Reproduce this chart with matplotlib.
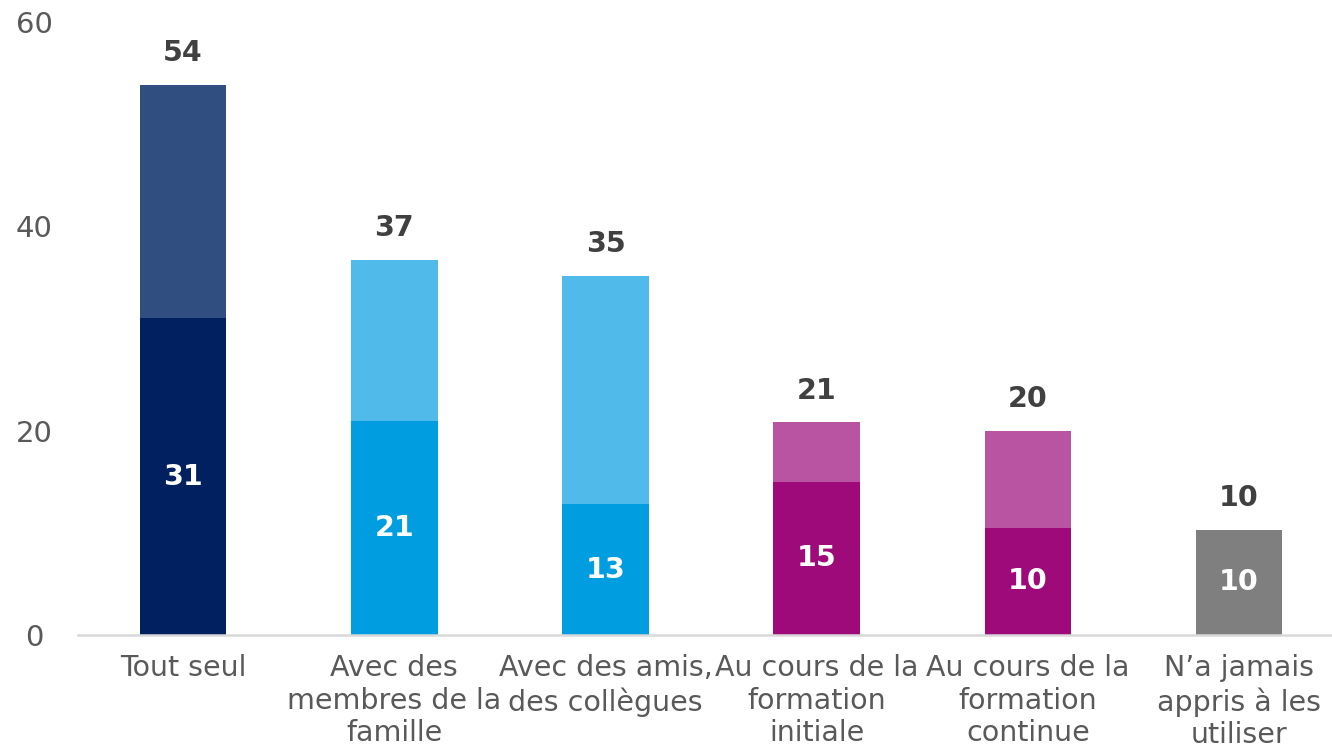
import matplotlib
matplotlib.use("Agg")
import matplotlib.pyplot as plt
import numpy as np

# how people learned to use the tools: total share and "main" share (%)
categories = ["Tout seul", "Avec des\nmembres de la\nfamille", "Avec des amis,\ndes collègues",
              "Au cours de la\nformation\ninitiale", "Au cours de la\nformation\ncontinue",
              "N’a jamais\nappris à les\nutiliser"]
totals = [53.8, 36.7, 35.1, 20.8, 20.0, 10.3]
bottoms = [31.0, 20.9, 12.8, 15.0, 10.5, 10.3]
bottom_colors = ["#00205F", "#009EE0", "#009EE0", "#9E0A7A", "#9E0A7A", "#7F7F7F"]
top_colors = ["#314E80", "#50BBEA", "#50BBEA", "#B954A2", "#B954A2", "#7F7F7F"]

plt.rcParams['font.family'] = ['DejaVu Sans']
fig = plt.figure(figsize=(13.32, 7.51), dpi=100)
ax = fig.add_axes([0.0582, 0.1545, 0.9418, 0.8162])

x = np.arange(len(categories))
w = 0.41
tops = [t - b for t, b in zip(totals, bottoms)]
ax.bar(x, bottoms, w, color=bottom_colors, zorder=2)
ax.bar(x, tops, w, bottom=bottoms, color=top_colors, zorder=2)

for xi, t, b in zip(x, totals, bottoms):
    ax.annotate(f"{t:.0f}", (xi, t), xytext=(0, 23), textcoords="offset points",
                ha="center", va="center", fontsize=20.5, fontweight="bold", color="#404040")
    ax.text(xi, b / 2, f"{b:.0f}", ha="center", va="center", fontsize=20.5,
            fontweight="bold", color="white")

ax.set_xlim(-0.5, 5.44)
ax.set_ylim(0, 60)
ax.set_yticks([0, 20, 40, 60])
ax.set_xticks(x)
ax.set_xticklabels(categories, fontsize=20.5, color="#595959", linespacing=1.2)
ax.tick_params(axis="x", length=0, pad=14)
ax.tick_params(axis="y", length=0, pad=31, labelsize=21, labelcolor="#595959")
for lab in ax.get_yticklabels():
    lab.set_horizontalalignment("center")

for s in ["top", "right", "left"]:
    ax.spines[s].set_visible(False)
ax.spines["bottom"].set_color("#D9D9D9")
ax.spines["bottom"].set_linewidth(1.8)
ax.spines["bottom"].set_zorder(3)

fig.savefig("out.png", dpi=100)
